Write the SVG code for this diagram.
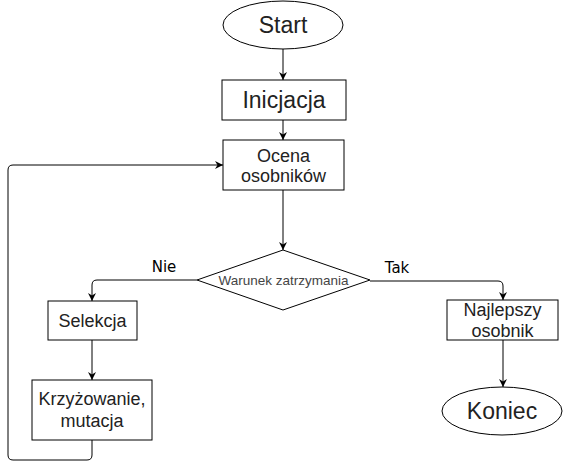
<svg xmlns="http://www.w3.org/2000/svg" width="563" height="469" viewBox="0 0 563 469">
<style>
.shape{fill:#fff;stroke:#000;stroke-width:1}
.t{font-family:"Liberation Sans",Arial,sans-serif;fill:#222;text-anchor:middle}
.big{font-size:23px}
.mid{font-size:18px}
.sm{font-size:13.5px;fill:#444}
.lbl{font-family:"DejaVu Sans",Verdana,sans-serif;font-size:15px;fill:#000;text-anchor:middle}
.edge{fill:none;stroke:#000;stroke-width:1}
</style>
<defs>
<marker id="arr" markerUnits="userSpaceOnUse" markerWidth="9" markerHeight="9" refX="8" refY="4" orient="auto">
<path d="M0,0 L8,4 L0,8 L2.5,4 Z" fill="#000"/>
</marker>
</defs>
<rect width="563" height="469" fill="#fff"/>
<g id="edges">
<path class="edge" d="M283,49 V80" marker-end="url(#arr)"/>
<path class="edge" d="M283,120 V140" marker-end="url(#arr)"/>
<path class="edge" d="M283,190 V250" marker-end="url(#arr)"/>
<path class="edge" d="M197,280 H97 Q92,280 92,285 V301" marker-end="url(#arr)"/>
<path class="edge" d="M92,340 V380" marker-end="url(#arr)"/>
<path class="edge" d="M92,440 V455 Q92,460 87,460 H13 Q8,460 8,455 V170 Q8,165 13,165 H223" marker-end="url(#arr)"/>
<path class="edge" d="M370,281 H498 Q503,281 503,286 V300" marker-end="url(#arr)"/>
<path class="edge" d="M503,340 V387" marker-end="url(#arr)"/>
<text class="lbl" x="164" y="272">Nie</text>
<text class="lbl" x="397" y="273">Tak</text>
</g>
<g id="start">
<ellipse class="shape" cx="283" cy="25" rx="60" ry="24"/>
<text class="t big" x="283" y="33">Start</text>
</g>
<g id="inicjacja">
<rect class="shape" x="222" y="80" width="124" height="40"/>
<text class="t big" x="284" y="108">Inicjacja</text>
</g>
<g id="ocena">
<rect class="shape" x="223" y="140" width="121" height="50"/>
<text class="t mid" x="283.5" y="162">Ocena</text>
<text class="t mid" x="283.5" y="182">osobników</text>
</g>
<g id="warunek">
<polygon class="shape" points="283,250 370,280 283,310 197,280"/>
<text class="t sm" x="283.5" y="285">Warunek zatrzymania</text>
</g>
<g id="selekcja">
<rect class="shape" x="48" y="301" width="89" height="39"/>
<text class="t mid" x="92.5" y="327">Selekcja</text>
</g>
<g id="krzyzowanie">
<rect class="shape" x="32" y="380" width="120" height="60"/>
<text class="t mid" x="92" y="405">Krzyżowanie,</text>
<text class="t mid" x="92" y="427">mutacja</text>
</g>
<g id="najlepszy">
<rect class="shape" x="447" y="300" width="111" height="40"/>
<text class="t mid" x="502.5" y="316">Najlepszy</text>
<text class="t mid" x="502.5" y="337">osobnik</text>
</g>
<g id="koniec">
<ellipse class="shape" cx="502" cy="411" rx="60" ry="24"/>
<text class="t big" x="502" y="419">Koniec</text>
</g>
</svg>
